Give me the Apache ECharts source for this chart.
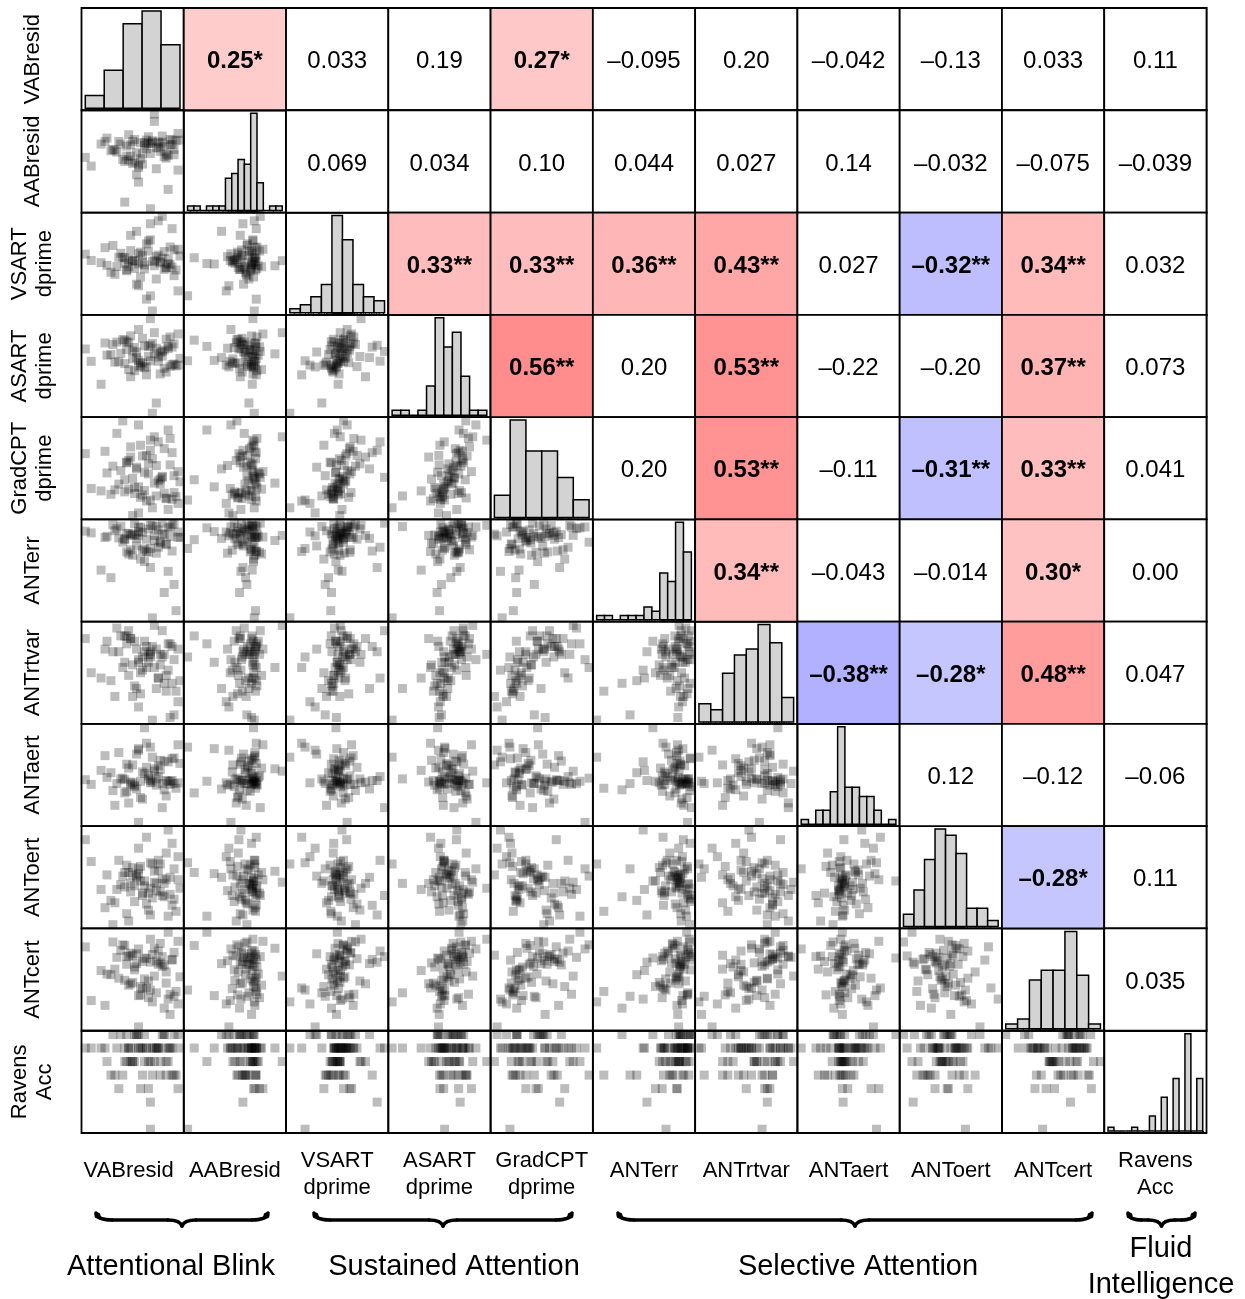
<!DOCTYPE html>
<html>
<head>
<meta charset="utf-8">
<script src="https://cdn.jsdelivr.net/npm/echarts@6/dist/echarts.min.js"></script>
<style>
  html, body { margin: 0; padding: 0; background: #fff; }
  #chart { width: 1245px; height: 1299px; }
</style>
</head>
<body>
<div id="chart"></div>
<script>
// ---------------------------------------------------------------------------
// Per-participant scores (same participant order in every array)
// ---------------------------------------------------------------------------
const vabResid = [
  -0.05, 0.02, -0.12, -0.31, 0.06, -0.08, -0.15, 0.01, -0.22, -0.03,
  -0.17, 0.08, -0.01, -0.11, -0.26, 0.04, -0.06, -0.14, 0.03, -0.09,
  -0.19, -0.02, 0.07, -0.13, -0.36, -0.07, 0.05, -0.16, -0.04, -0.24,
  0.00, -0.10, -0.18, 0.09, -0.06, -0.12, -0.21, 0.02, -0.08, -0.15,
  -0.03, -0.28, 0.06, -0.11, -0.17, -0.01, 0.04, -0.13, -0.09, -0.39,
  -0.05, 0.01, -0.19, -0.07, -0.23, 0.08, -0.14, -0.02, -0.10, 0.03,
  -0.16, -0.25, -0.04, 0.05, -0.12, -0.18, -0.06, 0.00, -0.20, -0.29
];
const aabResid = [
  0.30, 0.12, -0.08, 0.27, 0.19, 0.33, -0.02, 0.08, 0.31, 0.22,
  0.41, -0.12, 0.28, 0.05, 0.17, 0.26, -0.70, 0.34, 0.10, 0.29,
  0.01, 0.21, 0.32, 0.14, -0.06, 0.38, 0.26, 0.09, 0.61, 0.18,
  0.30, -0.03, 0.24, 0.33, 0.13, -0.30, 0.27, 0.06, 0.20, 0.31,
  -0.10, 0.36, 0.11, 0.29, 0.03, 0.16, 0.34, -0.19, 0.25, 0.07,
  0.32, 0.23, -0.60, 0.28, 0.15, 0.43, 0.00, 0.30, 0.12, -0.41,
  0.26, 0.19, 0.72, 0.33, -0.05, 0.09, 0.28, 0.39, 0.04, 0.31
];
const vsartDprime = [
  0.72, 2.65, 1.85, 2.88, 2.30, 1.25, 2.95, 2.58, 3.12, 2.15,
  2.70, 1.62, 2.92, 3.35, 2.45, 2.80, 1.40, 2.62, 3.05, 2.78,
  2.85, 3.22, 2.55, 1.92, 2.98, 3.40, 2.68, 4.10, 2.74, 2.36,
  3.08, 2.90, 2.52, 3.18, 4.62, 2.82, 3.30, 2.66, 3.72, 2.96,
  3.15, 2.76, 3.45, 2.24, 3.02, 2.87, 3.58, 4.28, 2.60, 3.26,
  2.93, 3.38, 3.10, 3.85, 2.71, 3.48, 2.99, 4.75, 3.20, 2.84,
  3.42, 3.65, 2.97, 4.40, 3.28, 2.57, 3.90, 4.95, 3.12, 3.55
];
const asartDprime = [
  -0.85, 1.35, 1.62, 0.70, 1.78, 1.20, 2.05, 1.55, 1.90, -0.30,
  1.48, 1.72, 1.25, 1.85, 2.28, 1.66, 1.95, 1.42, 2.60, 1.58,
  1.80, 2.15, 1.68, 2.42, 1.92, 2.70, 1.75, 1.10, 2.32, 1.88,
  2.20, 1.83, 2.55, 2.08, 2.78, 1.97, 2.35, 3.10, 1.64, 2.48,
  2.62, 2.25, 2.85, 1.70, 2.92, 2.40, 3.22, 2.12, 2.75, 2.58,
  2.88, 2.52, 3.05, 2.18, 2.95, 3.38, 2.66, 1.93, 3.15, 2.72,
  3.28, 2.82, 3.45, 2.68, 3.62, 2.97, 4.20, 2.45, 3.08, 2.90
];
const gradcptDprime = [
  1.35, 1.62, 1.20, 1.85, 2.30, 1.55, 1.12, 1.78, 2.05, 1.70,
  1.90, 1.48, 2.20, 1.66, 1.75, 2.62, 1.58, 1.95, 1.30, 2.40,
  1.82, 2.15, 1.68, 2.55, 1.92, 2.35, 1.60, 2.85, 2.08, 1.88,
  2.28, 1.73, 2.70, 2.12, 3.05, 1.97, 2.45, 1.64, 2.90, 2.22,
  2.60, 2.38, 1.80, 3.20, 2.75, 2.05, 3.40, 2.50, 1.86, 2.95,
  2.80, 3.10, 2.18, 2.65, 3.55, 2.42, 1.77, 3.30, 2.88, 3.65,
  3.15, 2.58, 3.45, 2.98, 3.80, 2.68, 3.35, 2.25, 3.92, 3.02
];
const antErr = [
  -22.5, -5.0, -3.1, -11.2, -14.6, -6.8, -2.7, -16.5, -3.6, -0.9,
  -7.4, -2.2, -4.8, -1.1, -13.0, -3.3, -6.1, -2.9, -11.5, -9.2,
  -3.8, -1.7, -20.8, -5.5, -2.4, -7.0, -0.4, -3.0, -4.2, -1.9,
  -2.6, -6.5, -6.9, -3.5, -10.6, -2.1, -0.8, -5.2, -3.9, -7.7,
  -7.2, -3.2, -0.3, -8.6, -2.5, -4.5, -1.0, -3.7, -6.2, -2.0,
  -0.7, -2.8, -4.0, -1.5, -1.4, -3.4, -0.2, -5.8, -2.3, -1.2,
  -6.4, -0.5, -3.0, -6.7, -1.0, -2.6, -0.6, -0.1, -4.6, -3.5
];
const antRtvar = [
  -0.38, -0.27, -0.33, -0.22, -0.36, -0.18, -0.29, -0.24, -0.12, -0.26,
  -0.21, -0.31, -0.17, -0.28, -0.23, -0.37, -0.14, -0.25, -0.19, -0.08,
  -0.16, -0.22, -0.27, -0.11, -0.20, -0.13, -0.24, -0.07, -0.18, -0.29,
  -0.14, -0.19, -0.09, -0.23, -0.12, -0.16, -0.06, -0.21, -0.10, -0.17,
  -0.11, -0.08, -0.15, -0.20, -0.04, -0.13, -0.09, -0.26, -0.12, -0.07,
  -0.10, -0.13, -0.06, -0.16, -0.03, -0.11, -0.08, -0.22, -0.14, -0.09,
  -0.07, -0.12, -0.02, -0.10, -0.15, -0.06, -0.13, -0.04, -0.18, -0.11
];
const antAert = [
  22, -8, 31, 5, -12, 40, 12, -20, 28, -6,
  8, -11, 18, -30, 2, -9, 35, -14, 16, 60,
  -7, 11, -18, 26, -13, -2, 20, -10, 7, -40,
  -12, 3, -22, 14, -8, 33, -6, -28, 9, -11,
  -14, -4, 21, -9, -37, 6, -13, -19, 1, -7,
  -10, 17, -24, -6, -12, 38, -16, -3, -32, -9,
  -13, -21, 4, -8, -62, 13, -11, -43, -5, 24
];
const antOert = [
  35, 22, 48, 14, 31, 57, 26, 8, 38, 19,
  28, 41, 12, 33, 5, 24, 36, 17, 63, 21,
  16, 30, -4, 25, 37, 11, 52, 19, 29, 3,
  23, 9, 34, 15, -7, 27, 18, 44, 2, 32,
  13, 26, 6, 21, -12, 35, 10, 24, 17, 55,
  7, 19, 28, -3, 14, 22, 4, 38, 11, -8,
  12, -15, 20, 1, 31, -6, 15, 9, 25, -1
];
const antCert = [
  -112, -85, -148, -67, -104, -92, -45, -121, -78, -99,
  -88, -115, -56, -102, -73, -130, -95, -62, -108, -49,
  -81, -58, -97, -43, -110, -106, -52, -86, -35, -65,
  -61, -93, -47, -76, -55, -103, -38, -69, -50, -84,
  -53, -72, -41, -90, -46, -28, -101, -57, -79, -33,
  -44, -59, -31, -82, -48, -25, -66, -39, -54, -12,
  -42, -26, -75, -51, -36, -58, -22, -47, -30, -117
];
const ravensAcc = [
  0.9, 0.8, 1.0, 0.9, 0.7, 0.9, 0.8, 1.0, 0.6, 0.9,
  0.9, 1.0, 0.8, 0.9, 0.7, 0.9, 0.3, 0.8, 0.9, 1.0,
  0.8, 0.9, 0.7, 1.0, 0.9, 0.6, 0.9, 0.8, 0.9, 0.7,
  1.0, 0.9, 0.8, 0.9, 0.5, 0.9, 1.0, 0.7, 0.9, 0.8,
  0.9, 0.8, 1.0, 0.6, 0.9, 0.7, 0.9, 1.0, 0.8, 0.9,
  0.7, 1.0, 0.9, 0.8, 0.9, 0.6, 1.0, 0.9, 0.7, 0.8,
  0.9, 1.0, 0.8, 0.7, 0.9, 1.0, 0.8, 0.9, 0.7, 0.9
];

// ---------------------------------------------------------------------------
// Histogram bin edges and counts for the diagonal panels
// ---------------------------------------------------------------------------
const vabBreaks = [-0.4, -0.3, -0.2, -0.1, 0.0, 0.1];
const vabCounts = [3, 9, 20, 23, 15];
const aabBreaks = [-0.75, -0.65, -0.55, -0.45, -0.35, -0.25, -0.15, -0.05, 0.05, 0.15, 0.25, 0.35, 0.45, 0.55, 0.65, 0.75];
const aabCounts = [1, 1, 0, 1, 1, 1, 7, 8, 11, 10, 21, 6, 0, 1, 1];
const vsartBreaks = [0.5, 1.0, 1.5, 2.0, 2.5, 3.0, 3.5, 4.0, 4.5, 5.0];
const vsartCounts = [1, 2, 4, 7, 24, 18, 7, 4, 3];
const asartBreaks = [-1.0, -0.5, 0.0, 0.5, 1.0, 1.5, 2.0, 2.5, 3.0, 3.5, 4.0, 4.5];
const asartCounts = [1, 1, 0, 1, 6, 20, 14, 17, 8, 1, 1];
const gradcptBreaks = [1.0, 1.5, 2.0, 2.5, 3.0, 3.5, 4.0];
const gradcptCounts = [5, 22, 15, 15, 9, 4];
const errBreaks = [-24, -22, -20, -18, -16, -14, -12, -10, -8, -6, -4, -2, 0];
const errCounts = [1, 1, 0, 1, 1, 1, 3, 2, 11, 9, 23, 16];
const rtvarBreaks = [-0.40, -0.35, -0.30, -0.25, -0.20, -0.15, -0.10, -0.05, 0.0];
const rtvarCounts = [3, 2, 8, 11, 12, 16, 13, 4];
const aertBreaks = [-65, -55, -45, -35, -25, -15, -5, 5, 15, 25, 35, 45, 55, 65];
const aertCounts = [1, 0, 3, 3, 7, 21, 8, 8, 6, 6, 3, 0, 1];
const oertBreaks = [-20, -10, 0, 10, 20, 30, 40, 50, 60, 70];
const oertCounts = [2, 6, 11, 16, 15, 12, 3, 3, 1];
const certBreaks = [-160, -140, -120, -100, -80, -60, -40, -20, 0];
const certCounts = [1, 2, 10, 12, 12, 20, 11, 1];
const ravensBreaks = [0.20, 0.25, 0.30, 0.35, 0.40, 0.45, 0.50, 0.55, 0.60, 0.65, 0.70, 0.75, 0.80, 0.85, 0.90, 0.95, 1.00];
const ravensCounts = [1, 0, 0, 0, 1, 0, 0, 4, 0, 9, 0, 14, 0, 26, 0, 14];

// ---------------------------------------------------------------------------
// Pearson correlations above the diagonal, one array per row
// ---------------------------------------------------------------------------
const corrVABresid = [0.25, 0.033, 0.19, 0.27, -0.095, 0.20, -0.042, -0.13, 0.033, 0.11];
const corrAABresid = [0.069, 0.034, 0.10, 0.044, 0.027, 0.14, -0.032, -0.075, -0.039];
const corrVSART    = [0.33, 0.33, 0.36, 0.43, 0.027, -0.32, 0.34, 0.032];
const corrASART    = [0.56, 0.20, 0.53, -0.22, -0.20, 0.37, 0.073];
const corrGradCPT  = [0.20, 0.53, -0.11, -0.31, 0.33, 0.041];
const corrANTerr   = [0.34, -0.043, -0.014, 0.30, 0.00];
const corrANTrtvar = [-0.38, -0.28, 0.48, 0.047];
const corrANTaert  = [0.12, -0.12, -0.06];
const corrANToert  = [-0.28, 0.11];
const corrANTcert  = [0.035];

// Labels
const varLabels = ['VABresid', 'AABresid', 'VSART\ndprime', 'ASART\ndprime', 'GradCPT\ndprime',
  'ANTerr', 'ANTrtvar', 'ANTaert', 'ANToert', 'ANTcert', 'Ravens\nAcc'];
const groupLabels = ['Attentional Blink', 'Sustained Attention', 'Selective Attention', 'Fluid\nIntelligence'];

// ---------------------------------------------------------------------------
// Assembly
// ---------------------------------------------------------------------------
const variables = [vabResid, aabResid, vsartDprime, asartDprime, gradcptDprime,
  antErr, antRtvar, antAert, antOert, antCert, ravensAcc];
const histBreaks = [vabBreaks, aabBreaks, vsartBreaks, asartBreaks, gradcptBreaks,
  errBreaks, rtvarBreaks, aertBreaks, oertBreaks, certBreaks, ravensBreaks];
const histCounts = [vabCounts, aabCounts, vsartCounts, asartCounts, gradcptCounts,
  errCounts, rtvarCounts, aertCounts, oertCounts, certCounts, ravensCounts];
const corrRows = [corrVABresid, corrAABresid, corrVSART, corrASART, corrGradCPT,
  corrANTerr, corrANTrtvar, corrANTaert, corrANToert, corrANTcert];

const FONT = '"Liberation Sans", Arial, Helvetica, sans-serif';
const PANEL_LEFT = 81.5, PANEL_TOP = 8, CELL = 1125 / 11;
const BORDER = 1.8;
const nVars = variables.length;
const nObs = vabResid.length;

// layout of the bottom annotation
const groupLabelX = [171, 454, 858, 1161];
const groupLabelY = 1267;
const braceSpan = [[96, 268], [314, 572], [618, 1092], [1128, 1195]];
const braceTop = 1213;

function padRange(lo, hi) {
  const p = (hi - lo) * 0.04;
  return [lo - p, hi + p];
}
const dataRange = variables.map(v => padRange(Math.min(...v), Math.max(...v)));

// two-sided significance of r with n - 2 degrees of freedom (df = 68)
function stars(r) {
  const t = Math.abs(r) * Math.sqrt((nObs - 2) / (1 - r * r));
  return t >= 2.650 ? '**' : (t >= 1.995 ? '*' : '');
}
function fmtCorr(r) {
  const a = Math.abs(r);
  const body = (a >= 0.1 || a === 0) ? a.toFixed(2) : String(Number(a.toPrecision(2)));
  return (r < 0 ? '\u2013' : '') + body;
}
function corrColor(r) {
  const a = Math.min(1, Math.abs(r) * 0.8);
  const c = Math.round(255 * (1 - a));
  return r > 0 ? `rgb(255,${c},${c})` : `rgb(${c},${c},255)`;
}

function renderBar(params, api) {
  const lo = api.value(0), hi = api.value(1), c = api.value(2);
  const a = api.coord([lo, c]);
  const b = api.coord([hi, 0]);
  return {
    type: 'rect',
    shape: { x: a[0], y: a[1], width: b[0] - a[0], height: b[1] - a[1] },
    style: { fill: '#d3d3d3', stroke: '#000', lineWidth: 1.5 }
  };
}
function renderRug(params, api) {
  const p = api.coord([api.value(0), 0]);
  return {
    type: 'line',
    shape: { x1: p[0], y1: p[1], x2: p[0], y2: p[1] + 2.5 },
    style: { stroke: '#000', lineWidth: 0.8 }
  };
}
function renderCorr(params, api) {
  const r = api.value(0);
  const cs = params.coordSys;
  const s = stars(r);
  return {
    type: 'group',
    children: [
      {
        type: 'rect',
        shape: { x: cs.x, y: cs.y, width: cs.width, height: cs.height },
        style: { fill: s ? corrColor(r) : '#ffffff', stroke: '#000', lineWidth: BORDER }
      },
      {
        type: 'text',
        x: cs.x + cs.width / 2,
        y: cs.y + cs.height / 2 + 2.5,
        style: {
          text: fmtCorr(r) + s,
          fill: '#000',
          fontSize: 24,
          fontWeight: s ? 'bold' : 'normal',
          fontFamily: FONT,
          align: 'center',
          verticalAlign: 'middle',
          textAlign: 'center',
          textVerticalAlign: 'middle'
        }
      }
    ]
  };
}

const grids = [], xAxes = [], yAxes = [], series = [];
for (let i = 0; i < nVars; i++) {
  for (let j = 0; j < nVars; j++) {
    const idx = grids.length;
    grids.push({
      left: PANEL_LEFT + j * CELL, top: PANEL_TOP + i * CELL,
      width: CELL, height: CELL,
      show: true, borderColor: '#000', borderWidth: BORDER,
      backgroundColor: 'transparent', containLabel: false
    });
    const ax = { type: 'value', gridIndex: idx, show: false, scale: true };
    if (i === j) {
      const br = histBreaks[i], cn = histCounts[i];
      const M = Math.max(...cn);
      const hx = padRange(br[0], br[br.length - 1]);
      xAxes.push(Object.assign({}, ax, { min: hx[0], max: hx[1] }));
      yAxes.push(Object.assign({}, ax, { min: -0.02 * M, max: 1.03 * M }));
      series.push({
        type: 'custom', xAxisIndex: idx, yAxisIndex: idx, silent: true,
        data: cn.map((c, k) => [br[k], br[k + 1], c]),
        encode: { x: [0, 1], y: 2 },
        renderItem: renderBar
      });
      series.push({
        type: 'custom', xAxisIndex: idx, yAxisIndex: idx, silent: true,
        data: variables[i].map(v => [v, 0]),
        encode: { x: 0, y: 1 },
        renderItem: renderRug
      });
    } else if (i > j) {
      xAxes.push(Object.assign({}, ax, { min: dataRange[j][0], max: dataRange[j][1] }));
      yAxes.push(Object.assign({}, ax, { min: dataRange[i][0], max: dataRange[i][1] }));
      series.push({
        type: 'scatter', xAxisIndex: idx, yAxisIndex: idx, silent: true,
        symbol: 'rect', symbolSize: 9, clip: true,
        itemStyle: { color: 'rgba(0,0,0,0.33)' },
        data: variables[j].map((v, k) => [v, variables[i][k]])
      });
    } else {
      xAxes.push(Object.assign({}, ax, { min: -1, max: 1 }));
      yAxes.push(Object.assign({}, ax, { min: -1, max: 1 }));
      series.push({
        type: 'custom', xAxisIndex: idx, yAxisIndex: idx, silent: true,
        data: [[corrRows[i][j - i - 1], 0]],
        encode: { x: 0, y: 1 },
        renderItem: renderCorr
      });
    }
  }
}

// text and braces around the matrix
const graphics = [];
varLabels.forEach((lab, k) => {
  const lines = lab.split('\n').length;
  const cx = PANEL_LEFT + (k + 0.5) * CELL;
  const cy = PANEL_TOP + (k + 0.5) * CELL;
  graphics.push({
    type: 'text', x: cx - (k === 0 ? 4 : 0), y: 1171 + (lines - 1) * 3.5,
    style: { text: lab, fontSize: 22, fontFamily: FONT, fill: '#000', lineHeight: 27,
      align: 'center', verticalAlign: 'middle', textAlign: 'center', textVerticalAlign: 'middle' }
  });
  graphics.push({
    type: 'text', x: 32.5, y: cy, rotation: Math.PI / 2,
    style: { text: lab, fontSize: 22, fontFamily: FONT, fill: '#000', lineHeight: 25,
      align: 'center', verticalAlign: 'middle', textAlign: 'center', textVerticalAlign: 'middle' }
  });
});
groupLabels.forEach((lab, k) => {
  graphics.push({
    type: 'text', x: groupLabelX[k], y: groupLabelY,
    style: { text: lab, fontSize: 29, fontFamily: FONT, fill: '#000', lineHeight: 36,
      align: 'center', verticalAlign: 'middle', textAlign: 'center', textVerticalAlign: 'middle' }
  });
});
const braceStyle = { stroke: '#000', lineWidth: 3.6, fill: null, lineCap: 'round' };
braceSpan.forEach(([x0, x1]) => {
  const y0 = braceTop, yb = braceTop + 7, yt = braceTop + 13;
  const cx = (x0 + x1) / 2;
  const endW = Math.min(16, (x1 - x0) / 5);
  const tipW = Math.min(14, (x1 - x0) / 5);
  graphics.push(
    { type: 'bezierCurve', shape: { x1: x0, y1: y0, cpx1: x0 + 1, cpy1: yb, x2: x0 + endW, y2: yb }, style: braceStyle },
    { type: 'line', shape: { x1: x0 + endW, y1: yb, x2: cx - tipW, y2: yb }, style: braceStyle },
    { type: 'bezierCurve', shape: { x1: cx - tipW, y1: yb, cpx1: cx - 2, cpy1: yb, x2: cx, y2: yt }, style: braceStyle },
    { type: 'bezierCurve', shape: { x1: cx + tipW, y1: yb, cpx1: cx + 2, cpy1: yb, x2: cx, y2: yt }, style: braceStyle },
    { type: 'line', shape: { x1: cx + tipW, y1: yb, x2: x1 - endW, y2: yb }, style: braceStyle },
    { type: 'bezierCurve', shape: { x1: x1 - endW, y1: yb, cpx1: x1 - 1, cpy1: yb, x2: x1, y2: y0 }, style: braceStyle },
    // heavier blobs at the two tips of the brace
    { type: 'circle', shape: { cx: x0 + 1.5, cy: y0 + 2.5, r: 3 }, style: { fill: '#000' } },
    { type: 'circle', shape: { cx: x1 - 1.5, cy: y0 + 2.5, r: 3 }, style: { fill: '#000' } }
  );
});

const chart = echarts.init(document.getElementById('chart'), null, { renderer: 'canvas' });
chart.setOption({
  animation: false,
  backgroundColor: '#ffffff',
  grid: grids,
  xAxis: xAxes,
  yAxis: yAxes,
  series: series,
  graphic: { elements: graphics }
});
</script>
</body>
</html>
